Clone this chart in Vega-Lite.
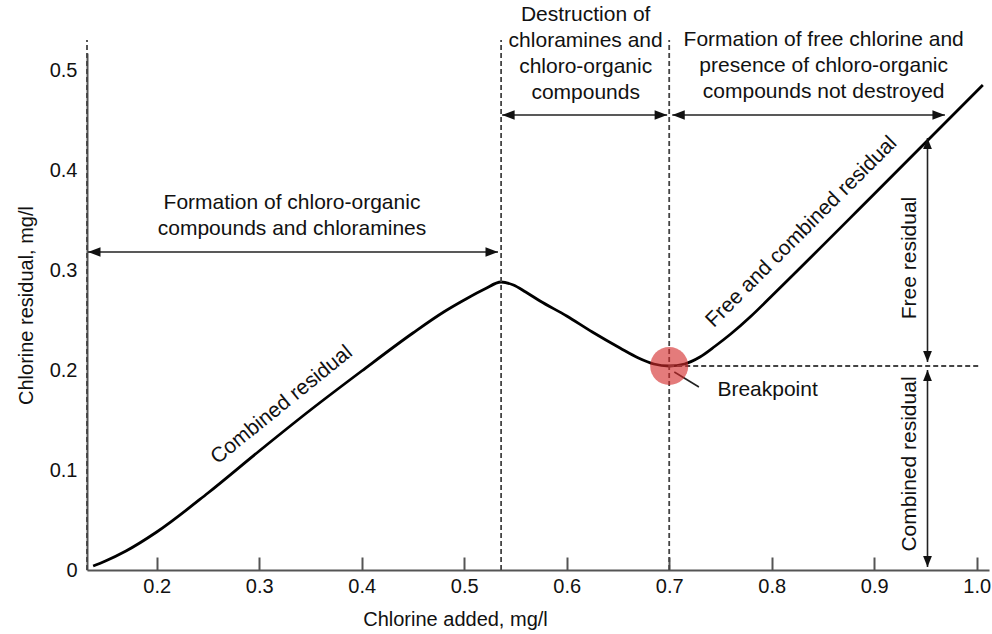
{
  "$schema": "https://vega.github.io/schema/vega-lite/v6.json",
  "width": 902,
  "height": 517,
  "autosize": "none",
  "padding": {"left": 87, "top": 53, "right": 3, "bottom": 64},
  "background": "white",
  "config": {
    "view": {"stroke": null},
    "font": "Liberation Sans",
    "text": {"font": "Liberation Sans"}
  },
  "datasets": {
    "curve": [
      {"x": 0.138, "y": 0.004},
      {"x": 0.15, "y": 0.009},
      {"x": 0.17, "y": 0.019},
      {"x": 0.2, "y": 0.038},
      {"x": 0.25, "y": 0.077},
      {"x": 0.3, "y": 0.119},
      {"x": 0.35, "y": 0.16},
      {"x": 0.4, "y": 0.199},
      {"x": 0.45, "y": 0.237},
      {"x": 0.48, "y": 0.258},
      {"x": 0.5, "y": 0.27},
      {"x": 0.52, "y": 0.281},
      {"x": 0.536, "y": 0.288},
      {"x": 0.548, "y": 0.285},
      {"x": 0.56, "y": 0.278},
      {"x": 0.574, "y": 0.269},
      {"x": 0.6, "y": 0.254},
      {"x": 0.625, "y": 0.238},
      {"x": 0.652, "y": 0.222},
      {"x": 0.67, "y": 0.212},
      {"x": 0.685, "y": 0.206},
      {"x": 0.7, "y": 0.204},
      {"x": 0.715, "y": 0.206},
      {"x": 0.73, "y": 0.213},
      {"x": 0.745, "y": 0.224},
      {"x": 0.76, "y": 0.236},
      {"x": 0.78, "y": 0.254},
      {"x": 0.8, "y": 0.274},
      {"x": 0.9, "y": 0.376},
      {"x": 1.006, "y": 0.485}
    ],
    "vdash": [{"x": 0.132}, {"x": 0.536}, {"x": 0.7}],
    "hdash": [{"y": 0.204, "x": 0.7, "x2": 1.003}],
    "harrows": [
      {"y": 0.318, "x": 0.133, "x2": 0.533},
      {"y": 0.455, "x": 0.537, "x2": 0.698},
      {"y": 0.455, "x": 0.703, "x2": 0.969}
    ],
    "varrows": [
      {"x": 0.952, "y": 0.208, "y2": 0.432},
      {"x": 0.952, "y": 0.003, "y2": 0.2}
    ],
    "pointer": [{"x": 0.705, "y": 0.198}, {"x": 0.729, "y": 0.183}],
    "bp": [{"x": 0.7, "y": 0.204}],
    "blocks": [
      {"x": 0.332, "y": 0.367, "label": "Formation of chloro-organic\ncompounds and chloramines"},
      {"x": 0.6185, "y": 0.555, "label": "Destruction of\nchloramines and\nchloro-organic\ncompounds"},
      {"x": 0.8507, "y": 0.53, "label": "Formation of free chlorine and\npresence of chloro-organic\ncompounds not destroyed"}
    ],
    "bplabel": [{"x": 0.747, "y": 0.18, "label": "Breakpoint"}],
    "lab39": [{"x": 0.322, "y": 0.165, "label": "Combined residual"}],
    "lab45": [{"x": 0.829, "y": 0.338, "label": "Free and combined residual"}],
    "lab90": [
      {"x": 0.935, "y": 0.312, "label": "Free residual"},
      {"x": 0.935, "y": 0.106, "label": "Combined residual"}
    ]
  },
  "layer": [
    {
      "data": {"name": "curve"},
      "mark": {"type": "line", "color": "#000", "strokeWidth": 2.8, "interpolate": "monotone"},
      "encoding": {
        "x": {
          "field": "x", "type": "quantitative",
          "scale": {"domain": [0.132, 1.012], "nice": false, "zero": false},
          "axis": {
            "values": [0.2, 0.3, 0.4, 0.5, 0.6, 0.7, 0.8, 0.9, 1.0],
            "format": ".1f",
            "grid": false,
            "tickSize": -13,
            "tickWidth": 2,
            "tickColor": "#555",
            "domainColor": "#555",
            "domainWidth": 2,
            "labelFontSize": 20,
            "labelColor": "#111",
            "labelPadding": 19,
            "labelFlush": false,
            "labelOverlap": false,
            "title": "Chlorine added, mg/l",
            "titleFontSize": 20,
            "titleFontWeight": "normal",
            "titleColor": "#111",
            "titleX": 368,
            "titleY": 49,
            "titleAlign": "center",
            "titleBaseline": "middle"
          }
        },
        "y": {
          "field": "y", "type": "quantitative",
          "scale": {"domain": [0, 0.517], "nice": false, "zero": false},
          "axis": {
            "values": [0, 0.1, 0.2, 0.3, 0.4, 0.5],
            "labelExpr": "datum.value == 0 ? '0' : format(datum.value, '.1f')",
            "grid": false,
            "ticks": false,
            "tickSize": 0,
            "domainColor": "#555",
            "domainWidth": 2,
            "labelFontSize": 20,
            "labelColor": "#111",
            "labelPadding": 10,
            "title": "Chlorine residual, mg/l",
            "titleFontSize": 20,
            "titleFontWeight": "normal",
            "titleColor": "#111",
            "titleX": -61,
            "titleY": 252,
            "titleAngle": 270,
            "titleAlign": "center",
            "titleBaseline": "middle"
          }
        }
      }
    },
    {
      "data": {"name": "vdash"},
      "mark": {"type": "rule", "color": "#444", "strokeWidth": 1.8, "strokeDash": [5, 3]},
      "encoding": {
        "x": {"field": "x", "type": "quantitative"},
        "y": {"datum": 0},
        "y2": {"datum": 0.53}
      }
    },
    {
      "data": {"name": "hdash"},
      "mark": {"type": "rule", "color": "#444", "strokeWidth": 1.8, "strokeDash": [5, 3]},
      "encoding": {
        "x": {"field": "x", "type": "quantitative"},
        "x2": {"field": "x2"},
        "y": {"field": "y", "type": "quantitative"}
      }
    },
    {
      "data": {"name": "harrows"},
      "mark": {"type": "rule", "color": "#222", "strokeWidth": 1.6},
      "encoding": {
        "x": {"field": "x", "type": "quantitative"},
        "x2": {"field": "x2"},
        "y": {"field": "y", "type": "quantitative"}
      }
    },
    {
      "data": {"name": "harrows"},
      "mark": {"type": "point", "filled": true, "color": "#111", "opacity": 1, "size": 625, "shape": "M0,0L1,-0.38L1,0.38Z", "strokeWidth": 0},
      "encoding": {
        "x": {"field": "x", "type": "quantitative"},
        "y": {"field": "y", "type": "quantitative"}
      }
    },
    {
      "data": {"name": "harrows"},
      "mark": {"type": "point", "filled": true, "color": "#111", "opacity": 1, "size": 625, "shape": "M0,0L-1,-0.38L-1,0.38Z", "strokeWidth": 0},
      "encoding": {
        "x": {"field": "x2", "type": "quantitative"},
        "y": {"field": "y", "type": "quantitative"}
      }
    },
    {
      "data": {"name": "varrows"},
      "mark": {"type": "rule", "color": "#222", "strokeWidth": 1.6},
      "encoding": {
        "x": {"field": "x", "type": "quantitative"},
        "y": {"field": "y", "type": "quantitative"},
        "y2": {"field": "y2"}
      }
    },
    {
      "data": {"name": "varrows"},
      "mark": {"type": "point", "filled": true, "color": "#111", "opacity": 1, "size": 484, "shape": "M0,0L-0.4,-1L0.4,-1Z", "strokeWidth": 0},
      "encoding": {
        "x": {"field": "x", "type": "quantitative"},
        "y": {"field": "y", "type": "quantitative"}
      }
    },
    {
      "data": {"name": "varrows"},
      "mark": {"type": "point", "filled": true, "color": "#111", "opacity": 1, "size": 484, "shape": "M0,0L-0.4,1L0.4,1Z", "strokeWidth": 0},
      "encoding": {
        "x": {"field": "x", "type": "quantitative"},
        "y": {"field": "y2", "type": "quantitative"}
      }
    },
    {
      "data": {"name": "pointer"},
      "mark": {"type": "line", "color": "#222", "strokeWidth": 1.6},
      "encoding": {
        "x": {"field": "x", "type": "quantitative"},
        "y": {"field": "y", "type": "quantitative"}
      }
    },
    {
      "data": {"name": "bp"},
      "mark": {"type": "point", "filled": true, "shape": "circle", "size": 1450, "color": "#d42a2a", "opacity": 0.62, "strokeWidth": 0},
      "encoding": {
        "x": {"field": "x", "type": "quantitative"},
        "y": {"field": "y", "type": "quantitative"}
      }
    },
    {
      "data": {"name": "blocks"},
      "mark": {"type": "text", "fontSize": 21, "lineHeight": 26, "lineBreak": "\n", "align": "center", "baseline": "middle", "color": "#111"},
      "encoding": {
        "x": {"field": "x", "type": "quantitative"},
        "y": {"field": "y", "type": "quantitative"},
        "text": {"field": "label"}
      }
    },
    {
      "data": {"name": "bplabel"},
      "mark": {"type": "text", "fontSize": 21, "align": "left", "baseline": "middle", "color": "#111"},
      "encoding": {
        "x": {"field": "x", "type": "quantitative"},
        "y": {"field": "y", "type": "quantitative"},
        "text": {"field": "label"}
      }
    },
    {
      "data": {"name": "lab39"},
      "mark": {"type": "text", "fontSize": 21, "align": "center", "baseline": "middle", "angle": -39, "color": "#111"},
      "encoding": {
        "x": {"field": "x", "type": "quantitative"},
        "y": {"field": "y", "type": "quantitative"},
        "text": {"field": "label"}
      }
    },
    {
      "data": {"name": "lab45"},
      "mark": {"type": "text", "fontSize": 21, "align": "center", "baseline": "middle", "angle": -45, "color": "#111"},
      "encoding": {
        "x": {"field": "x", "type": "quantitative"},
        "y": {"field": "y", "type": "quantitative"},
        "text": {"field": "label"}
      }
    },
    {
      "data": {"name": "lab90"},
      "mark": {"type": "text", "fontSize": 21, "align": "center", "baseline": "middle", "angle": -90, "color": "#111"},
      "encoding": {
        "x": {"field": "x", "type": "quantitative"},
        "y": {"field": "y", "type": "quantitative"},
        "text": {"field": "label"}
      }
    }
  ]
}
